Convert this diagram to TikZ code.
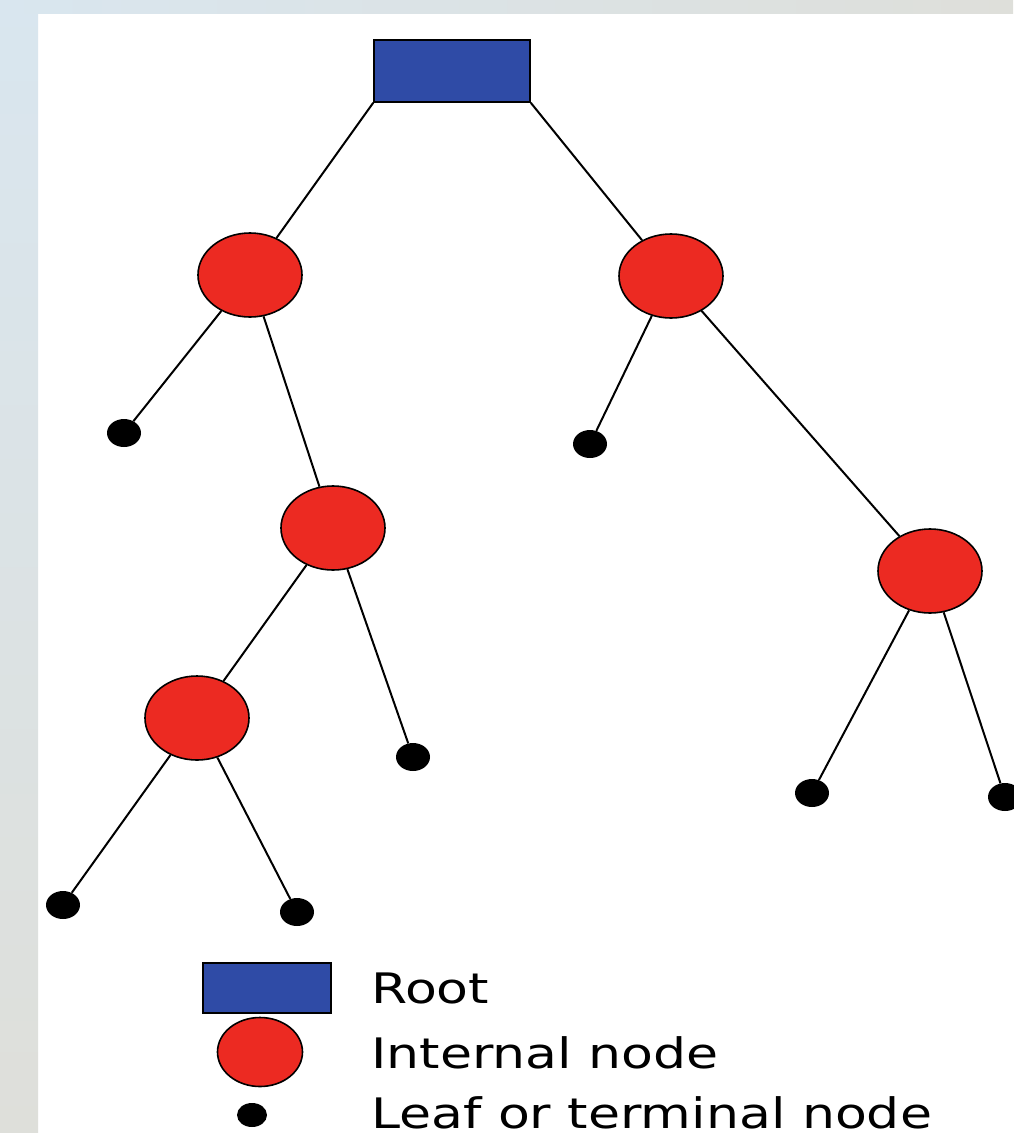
\documentclass[tikz,border=0pt]{standalone}
\usepackage{fontspec}
\setmainfont{DejaVu Sans}
\usetikzlibrary{shapes.geometric}
\definecolor{rootblue}{HTML}{2F4BA6}
\definecolor{nodered}{HTML}{EC2A22}
\definecolor{bgblue}{HTML}{D9E6EF}
\definecolor{bggray}{HTML}{DEDFDA}
\newcommand{\legtxt}[1]{\scalebox{1.24}[1]{#1}}
\tikzset{
  rootbox/.style={draw=black, line width=1.6pt, fill=rootblue, minimum width=156pt, minimum height=62pt, inner sep=0pt},
  internal/.style={ellipse, draw=black, line width=1.6pt, fill=nodered, minimum width=104pt, minimum height=84pt, inner sep=0pt},
  leaf/.style={ellipse, fill=black, minimum width=34pt, minimum height=28pt, inner sep=0pt},
  edge/.style={draw=black, line width=2pt},
  legendtext/.style={anchor=base west, font=\fontsize{42}{50}\selectfont, inner sep=0pt}
}
\begin{document}
\begin{tikzpicture}[x=1pt, y=-1pt]
\useasboundingbox (0,0) rectangle (1013,1133);
\fill[white] (0,0) rectangle (1013,1133);
\shade[top color=bgblue, bottom color=bggray] (0,0) rectangle (38,1133);
\shade[left color=bgblue, right color=bggray] (0,0) rectangle (1013,13);

% tree nodes
\node[rootbox] (root) at (452,71) {};
\node[internal] (A) at (250,275) {};
\node[internal] (B) at (671,276) {};
\node[internal] (C) at (333,528) {};
\node[internal] (D) at (930,571) {};
\node[internal] (E) at (197,718) {};
\node[leaf] (l1) at (124,433) {};
\node[leaf] (l2) at (590,444) {};
\node[leaf] (l3) at (413,757) {};
\node[leaf] (l4) at (63,905) {};
\node[leaf] (l5) at (297,912) {};
\node[leaf] (l6) at (812,793) {};
\node[leaf] (l7) at (1005,797) {};

% connectors
\draw[edge] (root.south west) -- (A);
\draw[edge] (root.south east) -- (B);
\draw[edge] (A) -- (l1);
\draw[edge] (A) -- (C);
\draw[edge] (B) -- (l2);
\draw[edge] (B) -- (D);
\draw[edge] (C) -- (E);
\draw[edge] (C) -- (l3);
\draw[edge] (E) -- (l4);
\draw[edge] (E) -- (l5);
\draw[edge] (D) -- (l6);
\draw[edge] (D) -- (l7);

% legend
\node[rootbox, minimum width=128pt, minimum height=50pt] (lgroot) at (267,988) {};
\node[internal, minimum width=85pt, minimum height=69pt] (lgint) at (260,1052) {};
\node[leaf, minimum width=30pt, minimum height=24pt] (lgleaf) at (252,1115) {};
\node[legendtext] (troot) at (371,1003) {\legtxt{Root}};
\node[legendtext] (tint) at (371,1068) {\legtxt{Internal node}};
\node[legendtext] (tleaf) at (371,1128) {\legtxt{Leaf or terminal node}};
\end{tikzpicture}
\end{document}
